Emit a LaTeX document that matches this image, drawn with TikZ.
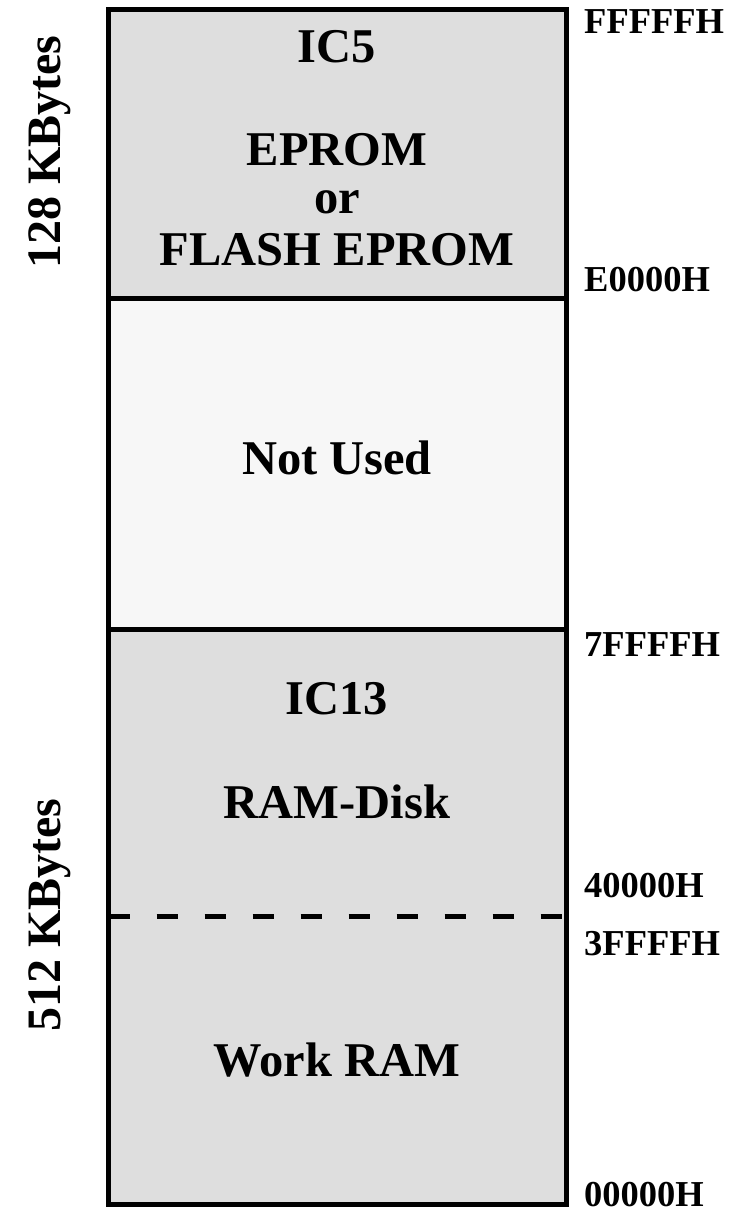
\documentclass[tikz,border=0pt]{standalone}
\usepackage{fontspec}
\setmainfont{Liberation Serif}
\definecolor{memgray}{HTML}{DEDEDE}
\definecolor{unusedgray}{HTML}{F7F7F7}
\begin{document}
\begin{tikzpicture}[x=1pt,y=-1pt,
  region/.style={draw, line width=5pt, inner sep=0pt, outer sep=0pt, anchor=north west, minimum width=457.5pt},
  big/.style={font=\bfseries\fontsize{48.5}{50}\selectfont, inner sep=0pt, anchor=base},
  addr/.style={font=\bfseries\fontsize{36.5}{40}\selectfont, inner sep=0pt, anchor=base west},
  sizelbl/.style={font=\bfseries\fontsize{48}{50}\selectfont, inner sep=0pt, anchor=base, rotate=90}]
\useasboundingbox (0,0) rectangle (731,1212);
% regions
\node[region, fill=memgray, minimum height=288pt] (rom) at (108.5,10) {};
\node[region, fill=unusedgray, minimum height=331pt] (unused) at (108.5,298) {};
\node[region, fill=memgray, minimum height=575pt] (ram) at (108.5,629) {};
% dashed split
\coordinate (dl) at (108.5,916);
\coordinate (dr) at (566,916);
\draw[line width=5pt, dash pattern=on 21.7pt off 26.3pt] (dl) -- (dr);
% texts in boxes
\node[big] (ic5) at (337,63) {IC5};
\node[big] (eprom) at (337,165) {EPROM};
\node[big] (or) at (337,213) {or};
\node[big] (flash) at (337,265) {FLASH EPROM};
\node[big] (nu) at (337,474) {Not Used};
\node[big] (ic13) at (337,714) {IC13};
\node[big] (disk) at (337,818) {RAM-Disk};
\node[big] (work) at (337,1076) {Work RAM};
% addresses
\node[addr] (a1) at (584,34) {FFFFFH};
\node[addr] (a2) at (584,291) {E0000H};
\node[addr] (a3) at (584,656) {7FFFFH};
\node[addr] (a4) at (584,897) {40000H};
\node[addr] (a5) at (584,955) {3FFFFH};
\node[addr] (a6) at (584,1206) {00000H};
% sizes
\node[sizelbl] (s1) at (60,152) {128 KBytes};
\node[sizelbl] (s2) at (60,915) {512 KBytes};
\end{tikzpicture}
\end{document}
